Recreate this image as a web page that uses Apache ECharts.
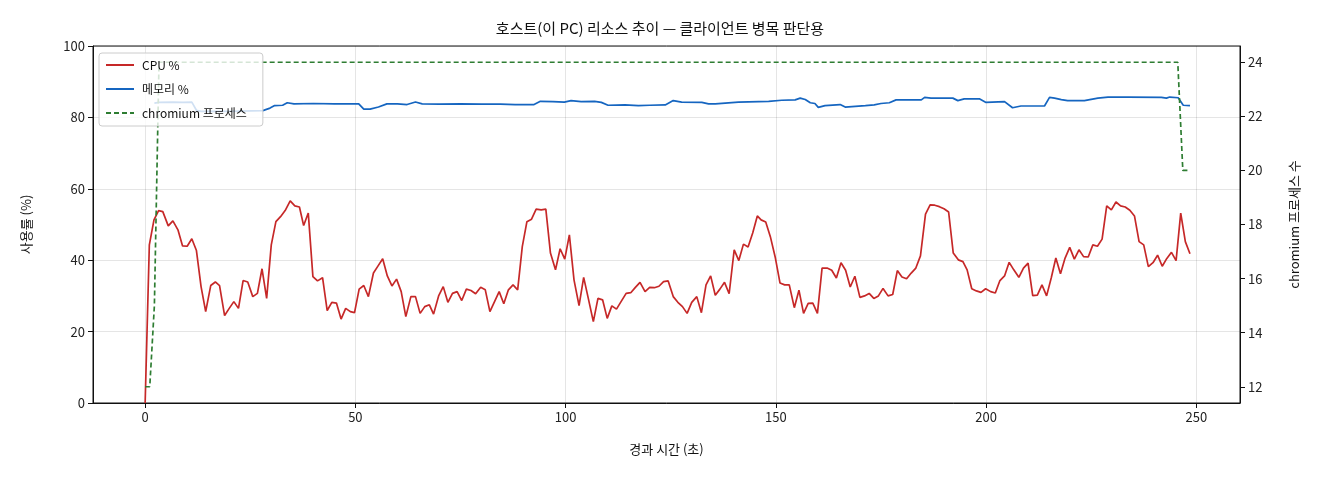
<!DOCTYPE html>
<html><head><meta charset="utf-8">
<script src="https://cdn.jsdelivr.net/npm/echarts@6/dist/echarts.min.js"></script>
<style>html,body{margin:0;padding:0;background:#fff}#c{width:1320px;height:480px}</style>
</head><body><div id="c"></div>
<script>
const cpuTime = [0.0,1.0,2.1,3.2,4.2,5.5,6.6,7.8,8.9,10.0,11.1,12.2,13.3,14.4,15.6,16.7,17.7,18.9,20.0,21.1,22.2,23.3,24.4,25.6,26.7,27.8,28.9,30.0,31.1,32.2,33.3,34.5,35.6,36.7,37.7,38.8,39.9,41.0,42.2,43.3,44.4,45.5,46.6,47.7,48.8,49.8,50.9,52.0,53.1,54.3,55.4,56.5,57.6,58.7,59.8,60.9,62.0,63.2,64.3,65.4,66.5,67.6,68.6,69.8,70.9,72.0,73.1,74.2,75.3,76.4,77.5,78.6,79.8,80.9,82.0,83.1,84.2,85.3,86.4,87.5,88.6,89.7,90.8,91.9,93.0,94.2,95.3,96.4,97.6,98.7,99.8,100.9,102.0,103.2,104.3,105.4,106.6,107.7,108.8,109.9,111.0,112.1,113.3,114.4,115.5,116.6,117.7,118.9,120.0,121.1,122.2,123.3,124.4,125.6,126.7,127.8,128.9,130.0,131.2,132.3,133.4,134.5,135.6,136.7,137.8,138.9,140.1,141.2,142.3,143.4,144.5,145.6,146.5,147.6,148.7,149.9,151.0,152.1,153.2,154.4,155.5,156.6,157.7,158.8,159.9,161.0,162.2,163.3,164.4,165.5,166.6,167.7,168.8,170.0,171.1,172.2,173.3,174.4,175.5,176.7,177.8,178.9,180.0,181.1,182.2,183.3,184.4,185.6,186.7,187.8,188.9,190.0,191.1,192.2,193.4,194.5,195.5,196.6,197.7,198.8,199.9,201.1,202.2,203.3,204.4,205.5,206.6,207.8,208.9,210.0,211.1,212.2,213.3,214.4,215.5,216.6,217.7,218.8,219.9,221.0,222.1,223.2,224.3,225.4,226.5,227.6,228.7,229.8,230.9,232.0,233.1,234.2,235.3,236.4,237.5,238.6,239.7,240.8,241.9,243.0,244.1,245.2,246.3,247.4,248.5];
const cpuPct = [0,44.3,51.3,53.9,53.6,49.6,51.0,48.5,44.0,43.9,46.0,42.7,32.6,25.6,32.9,33.9,32.9,24.5,26.5,28.4,26.5,34.3,33.9,29.8,30.7,37.6,29.3,44.3,50.8,52.2,53.9,56.6,55.2,54.9,49.7,53.2,35.4,34.2,35.1,25.9,28.2,28.0,23.5,26.5,25.6,25.3,31.9,32.9,29.8,36.4,38.4,40.4,35.6,32.8,34.7,31.2,24.2,29.8,29.8,25.1,27.0,27.5,24.9,30.0,32.6,28.2,30.7,31.2,28.7,31.9,31.5,30.6,32.4,31.7,25.6,28.4,31.2,27.8,31.7,33.1,31.7,43.8,50.8,51.5,54.3,54.1,54.3,42.0,37.3,43.2,40.3,47.1,34.5,27.3,35.2,29.3,22.8,29.3,28.9,23.7,27.2,26.3,28.6,30.7,30.9,32.4,33.8,31.2,32.4,32.3,32.7,34.0,34.2,29.8,28.2,27.0,25.1,28.2,29.8,25.3,33.1,35.6,30.2,31.9,33.8,30.6,42.9,39.9,44.5,43.7,47.6,52.4,51.3,50.7,46.6,40.6,33.6,33.1,33.1,26.7,31.6,25.1,27.9,28.0,25.1,37.8,37.8,37.2,35.0,39.3,37.2,32.5,35.5,29.6,30.0,30.7,29.3,30.0,32.1,30.0,30.4,37.1,35.3,34.8,36.4,37.8,41.2,52.9,55.5,55.4,55.0,54.4,53.5,42.0,40.1,39.6,37.3,32.0,31.4,31.0,32.0,31.2,30.8,34.3,35.6,39.4,37.3,35.2,37.8,39.2,30.1,30.2,33.1,30.0,35.0,40.6,36.2,40.6,43.6,40.3,42.9,41.0,40.9,44.3,43.9,45.9,55.2,54.1,56.3,55.2,54.9,54.0,52.4,45.2,44.3,38.2,39.3,41.4,38.3,40.5,42.2,39.9,53.2,45.2,41.8];
const memTime = [2.2,3.3,6.6,9.0,11.1,12.2,13.3,20,28,29.7,30.8,32.7,33.8,35.4,40,45,50.8,52,53.5,55.5,57.5,60,62.3,64.3,65.9,70,75,80,84.5,88,92.5,94,97,99.7,101.3,103.7,106.9,108.5,110.1,114.1,117.3,120,123.7,125.6,127.6,132.4,134,135.6,141.1,148.3,151.4,154.6,155.8,157,158.2,159.3,160.1,161.7,165.3,166.5,171.3,173.4,175,177,178.6,184.6,185.4,186.9,190.1,192.1,193.3,194.8,198.4,200,204.4,206.3,208.3,213.9,215.1,216.3,217.9,219.4,223.4,226.6,229,233.8,241.7,242.9,243.7,245.7,246.9,248.5];
const memPct = [84.0,84.2,84.3,84.2,84.3,82.0,81.7,81.7,81.9,82.6,83.3,83.4,84.1,83.8,83.9,83.8,83.8,82.3,82.3,82.9,83.8,83.8,83.6,84.3,83.8,83.7,83.8,83.7,83.7,83.6,83.6,84.5,84.4,84.3,84.7,84.4,84.5,84.2,83.4,83.5,83.3,83.4,83.5,84.7,84.3,84.2,83.8,83.8,84.3,84.5,84.8,84.9,85.4,85.0,84.1,83.9,82.8,83.3,83.6,82.9,83.3,83.5,83.9,84.1,84.9,84.9,85.6,85.4,85.4,85.4,84.7,85.2,85.2,84.2,84.4,82.7,83.2,83.2,85.6,85.4,85.0,84.7,84.7,85.4,85.7,85.7,85.6,85.4,85.7,85.5,83.4,83.3];
const procTime = [0.0,1.1,2.2,3.3,245.6,246.8,248.2];
const procCount = [12,12,15,24,24,20,20];
const xTicks = [0,50,100,150,200,250];
const yRightTicks = [12,14,16,18,20,22,24];

const zip = (a,b) => a.map((v,i)=>[v,b[i]]);
const FONT = '"Noto Sans CJK KR", "DejaVu Sans", sans-serif';
const chart = echarts.init(document.getElementById('c'), null, {renderer:'canvas'});
chart.setOption({
  animation:false,
  backgroundColor:'#fff',
  textStyle:{fontFamily:FONT},
  title:{text:'호스트(이 PC) 리소스 추이 — 클라이언트 병목 판단용', left:'center', top:16,
    textStyle:{fontFamily:FONT, fontSize:15, fontWeight:'normal', color:'#111'}},
  grid:{left:93, right:80, top:46, bottom:77, show:true, borderColor:'#111', borderWidth:1, backgroundColor:'transparent'},
  legend:{orient:'vertical', left:99, top:53, itemWidth:28, itemHeight:12, itemGap:12,
    padding:[6,16,7,6], backgroundColor:'rgba(255,255,255,0.8)', borderColor:'#ccc', borderWidth:1, borderRadius:3,
    itemStyle:{opacity:0},
    textStyle:{fontFamily:FONT, fontSize:12, color:'#111', padding:[0,0,0,3]},
    data:['CPU %','메모리 %','chromium 프로세스']},
  xAxis:{type:'value', min:-12.4, max:260.4,
    name:'경과 시간 (초)', nameLocation:'middle', nameGap:40,
    nameTextStyle:{fontFamily:FONT, fontSize:13, color:'#111'},
    axisLine:{show:true, onZero:false, lineStyle:{color:'#111'}},
    axisTick:{show:true, length:5, inside:false, lineStyle:{color:'#111'}, customValues:xTicks},
    axisLabel:{customValues:xTicks, fontFamily:FONT, fontSize:13, color:'#222', margin:8},
    splitLine:{show:true, lineStyle:{color:'rgba(0,0,0,0.1)', width:1}}},
  yAxis:[
    {type:'value', min:0, max:100, interval:20, position:'left',
     name:'사용률 (%)', nameLocation:'middle', nameGap:60,
     nameTextStyle:{fontFamily:FONT, fontSize:13, color:'#111'},
     axisLine:{show:true, onZero:false, lineStyle:{color:'#111'}},
     axisTick:{show:true, length:5, lineStyle:{color:'#111'}},
     axisLabel:{fontFamily:FONT, fontSize:13, color:'#222', margin:8},
     splitLine:{show:true, lineStyle:{color:'rgba(0,0,0,0.1)', width:1}}},
    {type:'value', min:11.4, max:24.6, position:'right',
     name:'chromium 프로세스 수', nameLocation:'middle', nameGap:48, nameRotate:90,
     nameTextStyle:{fontFamily:FONT, fontSize:13, color:'#111'},
     axisLine:{show:true, onZero:false, lineStyle:{color:'#111'}},
     axisTick:{show:true, length:5, lineStyle:{color:'#111'}, customValues:yRightTicks},
     axisLabel:{customValues:yRightTicks, fontFamily:FONT, fontSize:13, color:'#222', margin:8},
     splitLine:{show:false}}
  ],
  series:[
    {name:'CPU %', type:'line', yAxisIndex:0, data:zip(cpuTime,cpuPct), symbol:'none',
     lineStyle:{color:'#c62828', width:1.7}, itemStyle:{color:'#c62828'}, z:3},
    {name:'메모리 %', type:'line', yAxisIndex:0, data:zip(memTime,memPct), symbol:'none',
     lineStyle:{color:'#1565c0', width:1.7}, itemStyle:{color:'#1565c0'}, z:3},
    {name:'chromium 프로세스', type:'line', yAxisIndex:1, data:zip(procTime,procCount), symbol:'none',
     lineStyle:{color:'#2e7d32', width:1.7, type:[5,3]}, itemStyle:{color:'#2e7d32'}, z:3}
  ]
});
</script></body></html>
